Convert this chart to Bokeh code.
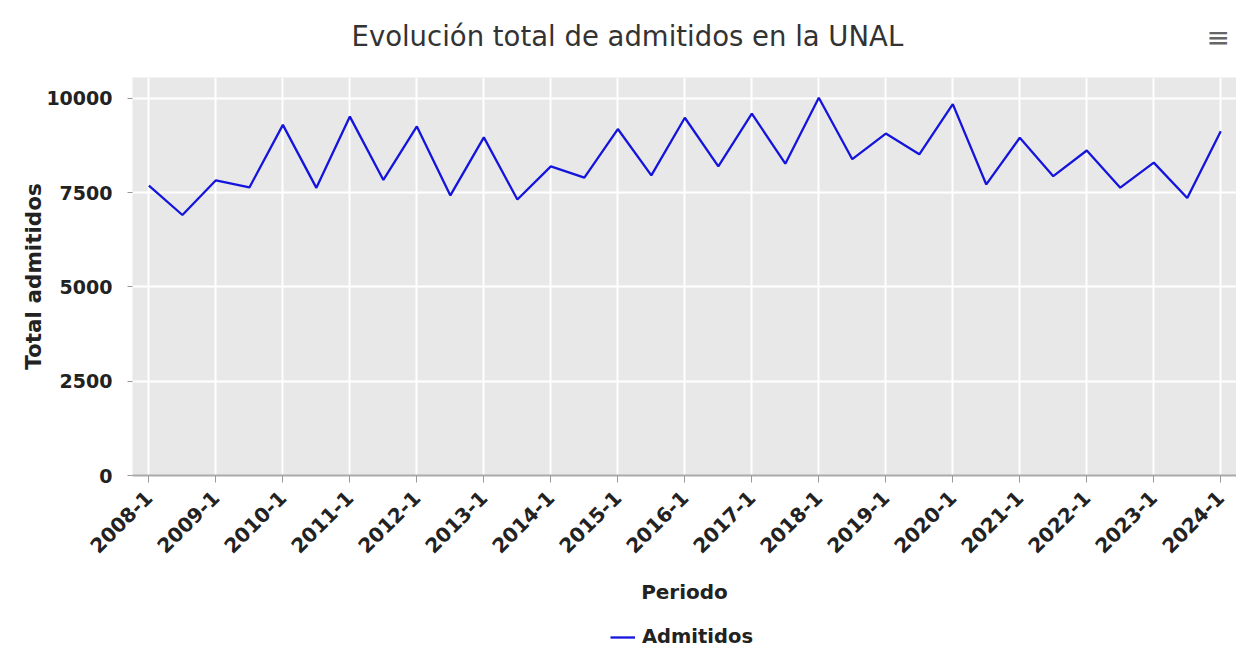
import math
from bokeh.plotting import figure
from bokeh.layouts import column
from bokeh.models import (Range1d, FixedTicker, Legend, LegendItem, Label,
                          ColumnDataSource)
from bokeh.embed import file_html
from bokeh.resources import INLINE

periods = ["2008-1", "2008-2", "2009-1", "2009-2", "2010-1", "2010-2",
           "2011-1", "2011-2", "2012-1", "2012-2", "2013-1", "2013-2",
           "2014-1", "2014-2", "2015-1", "2015-2", "2016-1", "2016-2",
           "2017-1", "2017-2", "2018-1", "2018-2", "2019-1", "2019-2",
           "2020-1", "2020-2", "2021-1", "2021-2", "2022-1", "2022-2",
           "2023-1", "2023-2", "2024-1"]
admitidos = [7690, 6910, 7830, 7640, 9300, 7630, 9520, 7840, 9260, 7430,
             8970, 7320, 8200, 7900, 9190, 7960, 9490, 8200, 9600, 8270,
             10020, 8390, 9070, 8520, 9850, 7720, 8960, 7940, 8620, 7635,
             8300, 7360, 9130]
y_ticks = [0, 2500, 5000, 7500, 10000]

TITLE = "Evolución total de admitidos en la UNAL"
SERIES = "Admitidos"
FONT = "DejaVu Sans"
LINE_COLOR = "#1414dc"
W = 1236
FRAME_LEFT = 132


def blank(height):
    f = figure(width=W, height=height, output_backend="svg",
               toolbar_location=None, x_axis_location=None,
               y_axis_location=None, x_range=Range1d(0, 1),
               y_range=Range1d(0, 1), min_border=0)
    f.grid.visible = False
    f.outline_line_color = None
    f.background_fill_color = "white"
    f.border_fill_color = "white"
    return f


idx = list(range(len(periods)))
x_ticks = idx[::2]
src = ColumnDataSource(dict(x=idx, y=admitidos, periodo=periods))

# ---- header: title + menu icon (frames are aligned with the main chart) ----
TOP_H = 62
p0 = blank(TOP_H)
p0.add_layout(Label(x=351 - FRAME_LEFT, y=TOP_H - 35, x_units="screen",
                    y_units="screen", text=TITLE, text_font=FONT,
                    text_font_size="27.5px", text_color="#333333",
                    text_baseline="middle"))
p0.add_layout(Label(x=1206 - FRAME_LEFT, y=TOP_H - 37, x_units="screen",
                    y_units="screen", text="≡", text_font=FONT,
                    text_font_size="28px", text_color="#666666",
                    text_baseline="middle"))

# ---- main chart ----
MAIN_H = 558
p = figure(width=W, height=MAIN_H, output_backend="svg", toolbar_location=None,
           x_range=Range1d(-0.49, 32.47), y_range=Range1d(0, 10557),
           min_border_left=FRAME_LEFT, min_border_right=0,
           min_border_top=77 - TOP_H,
           min_border_bottom=MAIN_H - (77 - TOP_H) - 398)
p.background_fill_color = "#e8e8e8"
p.border_fill_color = "white"
p.outline_line_color = None

xt = FixedTicker(ticks=x_ticks)
p.xaxis.ticker = xt
p.xaxis.major_label_overrides = {i: periods[i] for i in x_ticks}
p.xaxis.major_label_orientation = math.pi / 4
p.xaxis.major_label_text_font = FONT
p.xaxis.major_label_text_font_style = "bold"
p.xaxis.major_label_text_font_size = "20px"
p.xaxis.major_label_text_color = "#222222"
p.xaxis.major_label_standoff = 12
p.xaxis.axis_label = "Periodo"
p.xaxis.axis_label_text_font = FONT
p.xaxis.axis_label_text_font_style = "bold"
p.xaxis.axis_label_text_font_size = "20px"
p.xaxis.axis_label_text_color = "#222222"
p.xaxis.axis_label_standoff = 18
p.xaxis.axis_line_color = "#aaaaaa"
p.xaxis.axis_line_width = 2
p.xaxis.major_tick_out = 7
p.xaxis.major_tick_in = 0
p.xaxis.major_tick_line_color = "#999999"
p.xaxis.minor_tick_line_color = None

p.yaxis.ticker = FixedTicker(ticks=y_ticks)
p.yaxis.major_label_text_font = FONT
p.yaxis.major_label_text_font_style = "bold"
p.yaxis.major_label_text_font_size = "19px"
p.yaxis.major_label_text_color = "#222222"
p.yaxis.major_label_standoff = 15
p.yaxis.axis_label = "Total admitidos"
p.yaxis.axis_label_text_font = FONT
p.yaxis.axis_label_text_font_style = "bold"
p.yaxis.axis_label_text_font_size = "21.5px"
p.yaxis.axis_label_text_color = "#222222"
p.yaxis.axis_label_standoff = -3
p.yaxis.axis_line_color = None
p.yaxis.major_tick_out = 5
p.yaxis.major_tick_in = 0
p.yaxis.major_tick_line_color = "#999999"
p.yaxis.minor_tick_line_color = None

p.xgrid.ticker = xt
p.xgrid.grid_line_color = "white"
p.xgrid.grid_line_width = 2
p.ygrid.grid_line_color = "white"
p.ygrid.grid_line_width = 2

p.line("x", "y", source=src, line_color=LINE_COLOR, line_width=2.3)

# ---- legend strip (series drawn out of view, only its legend shows) ----
LEG_H = 649 - TOP_H - MAIN_H
p2 = blank(LEG_H)
lr = p2.line("x", "y", source=src, line_color=LINE_COLOR, line_width=2.3)
legend = Legend(items=[LegendItem(label=SERIES, renderers=[lr])],
                location=(610 - FRAME_LEFT, 1), orientation="horizontal",
                label_text_font=FONT, label_text_font_style="bold",
                label_text_font_size="19.5px", label_text_color="#222222",
                glyph_width=25, glyph_height=20, label_standoff=7,
                padding=0, margin=0, border_line_color=None,
                background_fill_alpha=0)
p2.add_layout(legend, "center")

layout = column(p0, p, p2, spacing=0)
open("out.html", "w").write(file_html(layout, INLINE))
